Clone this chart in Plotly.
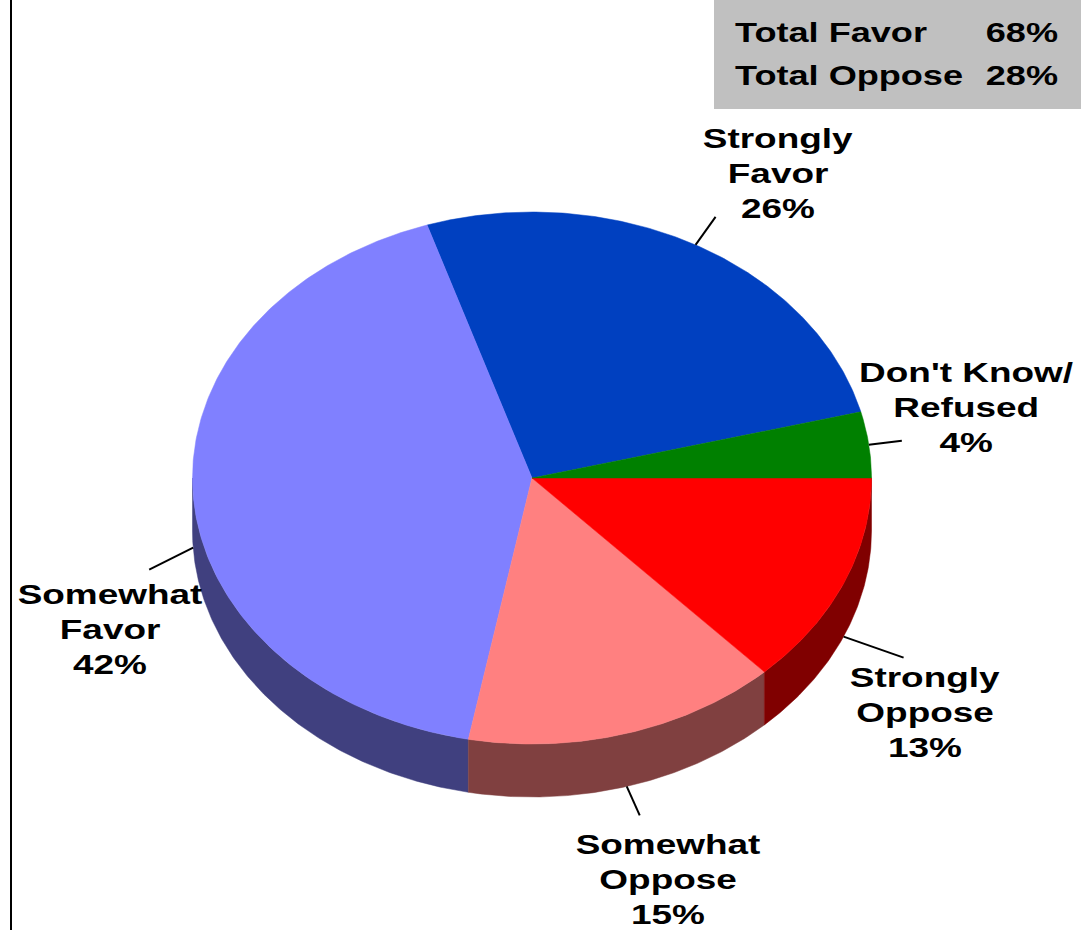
import numpy as np
import plotly.graph_objects as go

# ---- data ----
categories = ["Strongly Favor", "Somewhat Favor", "Somewhat Oppose", "Strongly Oppose", "Don't Know/ Refused"]
label_lines = [["Strongly", "Favor"], ["Somewhat", "Favor"], ["Somewhat", "Oppose"],
               ["Strongly", "Oppose"], ["Don't Know/", "Refused"]]
values = [26, 42, 15, 13, 4]
summary_labels = ["Total Favor", "Total Oppose"]
summary_values = [values[0] + values[1], values[2] + values[3]]

# ---- style ----
top_colors = ["#0040C0", "#8080FF", "#FF8080", "#FF0000", "#008000"]
side_colors = ["#002060", "#40407F", "#804040", "#800000", "#004000"]
CX, CY, RX, RY, DEPTH = 532, 478, 339.5, 266, 53
label_pos = [(778, 173), (110, 629), (668, 879), (925, 712), (966, 407)]
leader_off = [(20, -28), (-44, 22), (13, 29), (60, 21), (33, -4)]
LINE_GAP = 35
FONT = "Liberation Sans, Arial, sans-serif"
FSIZE = 28

total = sum(values)
start_deg = values[-1] / total * 360.0  # first slice starts after the last one (counter-clockwise)


def ell(t_deg, dy=0.0):
    t = np.radians(t_deg)
    return CX + RX * np.cos(t), CY - RY * np.sin(t) + dy


fig = go.Figure()

# slice angles
angles = []
a = start_deg
for v in values:
    b = a + v / total * 360.0
    angles.append((a, b))
    a = b

# side walls (visible lower half)
for (a, b), col in zip(angles, side_colors):
    for k in (0, 1):
        lo = max(a, 180 + 360 * k)
        hi = min(b, 360 + 360 * k)
        if hi > lo:
            ts = np.linspace(lo, hi, max(3, int((hi - lo) * 2)))
            xs_t, ys_t = ell(ts)
            xs_b, ys_b = ell(ts[::-1], DEPTH)
            xs = np.concatenate([xs_t, xs_b, xs_t[:1]])
            ys = np.concatenate([ys_t, ys_b, ys_t[:1]])
            fig.add_trace(go.Scatter(x=xs, y=ys, mode="lines", fill="toself",
                                     fillcolor=col, line=dict(color=col, width=0.5),
                                     hoverinfo="skip", showlegend=False))

# top faces
for (a, b), col, name, v in zip(angles, top_colors, categories, values):
    ts = np.linspace(a, b, max(3, int((b - a) * 2)))
    xs_a, ys_a = ell(ts)
    xs = np.concatenate([[CX], xs_a, [CX]])
    ys = np.concatenate([[CY], ys_a, [CY]])
    fig.add_trace(go.Scatter(x=xs, y=ys, mode="lines", fill="toself",
                             fillcolor=col, line=dict(color=col, width=0.5),
                             name=name, text=f"{name}: {v}%", hoverinfo="text",
                             showlegend=False))

# leader lines and labels
lab_font = dict(family=FONT, size=FSIZE, color="black", weight="bold")
for (a, b), lines, v, pos, off in zip(angles, label_lines, values, label_pos, leader_off):
    mid = (a + b) / 2.0
    dy = DEPTH if np.sin(np.radians(mid)) < 0 else 0.0
    x0, y0 = ell(mid, dy)
    fig.add_trace(go.Scatter(x=[x0, x0 + off[0]], y=[y0, y0 + off[1]], mode="lines",
                             line=dict(color="black", width=2), hoverinfo="skip",
                             showlegend=False))
    all_lines = lines + [f"{v}%"]
    n = len(all_lines)
    for i, txt in enumerate(all_lines):
        fig.add_annotation(x=pos[0], y=pos[1] + (i - (n - 1) / 2) * LINE_GAP, text=txt,
                           showarrow=False, xanchor="center", yanchor="middle",
                           font=lab_font)

# summary box
fig.add_shape(type="rect", x0=714, x1=1081, y0=0, y1=109, fillcolor="#C0C0C0",
              line=dict(width=0), layer="below")
for i, (lab, val) in enumerate(zip(summary_labels, summary_values)):
    yy = 32 + 43 * i
    fig.add_annotation(x=733, y=yy, text=lab, showarrow=False, xanchor="left",
                       yanchor="middle", font=lab_font)
    fig.add_annotation(x=1060, y=yy, text=f"{val}%", showarrow=False, xanchor="right",
                       yanchor="middle", font=lab_font)

# left vertical rule
fig.add_shape(type="line", x0=11, x1=11, y0=0, y1=930, line=dict(color="black", width=2))

fig.update_layout(
    width=1081, height=930,
    margin=dict(l=0, r=0, t=0, b=0),
    paper_bgcolor="white", plot_bgcolor="white",
    xaxis=dict(range=[0, 1081], visible=False, fixedrange=True),
    yaxis=dict(range=[930, 0], visible=False, fixedrange=True),
    showlegend=False,
)

# the original lettering is a horizontally widened bold sans; widen the real SVG text
post = """
document.body.style.margin = '0';
var gd = document.getElementById('{plot_id}');
function widen() {
  var anns = gd.layout.annotations || [];
  gd.querySelectorAll('g.annotation').forEach(function (g) {
    var i = +g.getAttribute('data-index');
    var ann = anns[i];
    var t = g.querySelector('text.annotation-text');
    if (!ann || !t) return;
    var bb = t.getBBox();
    var s = 1.32, ax = bb.x + bb.width / 2;
    if (ann.xanchor === 'left') { s = 1.29; ax = bb.x; }
    else if (ann.xanchor === 'right') { s = 1.29; ax = bb.x + bb.width; }
    t.setAttribute('transform', 'translate(' + ax + ',0) scale(' + s + ',1) translate(' + (-ax) + ',0)');
  });
}
widen();
gd.on('plotly_afterplot', widen);
"""

fig.write_html("out.html", config={"displayModeBar": False}, post_script=post)
